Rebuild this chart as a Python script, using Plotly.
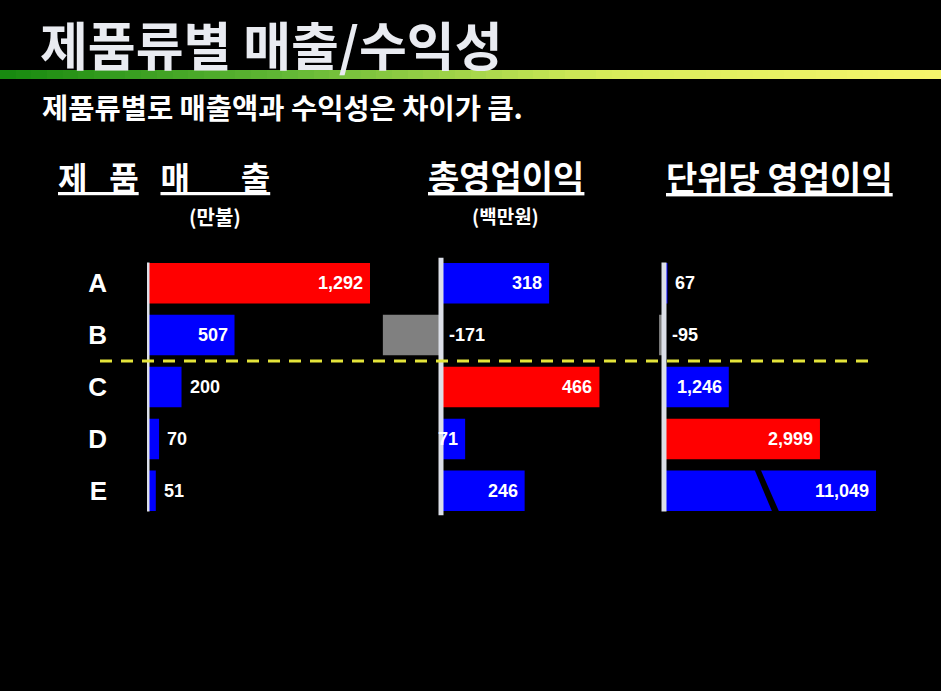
import plotly.graph_objects as go

W, H = 941, 691

# data
categories = ['A', 'B', 'C', 'D', 'E']
sales = [1292, 507, 200, 70, 51]              # 제품매출 (만불)
op_profit = [318, -171, 466, 71, 246]         # 총영업이익 (백만원)
unit_profit = [67, -95, 1246, 2999, 11049]    # 단위당 영업이익

sales_colors = ['#ff0000', '#0000ff', '#0000ff', '#0000ff', '#0000ff']
op_colors = ['#0000ff', '#808080', '#ff0000', '#0000ff', '#0000ff']
unit_colors = ['#0000ff', '#808080', '#0000ff', '#ff0000', '#0000ff']

# where the value label goes: inside the bar end or just outside
sales_pos = ['in', 'in', 'out', 'out', 'out']
op_pos = ['in', 'out', 'in', 'in', 'in']
unit_pos = ['out', 'out', 'in', 'in', 'in']


def px(x):
    return x / W


def py(y):
    return 1 - y / H


KFONT = 'Noto Sans CJK KR'
AFONT = 'Liberation Sans'

# pixel layout of the three panels: (axis, zero position, px per unit, domain left, domain right)
panels = [
    ('x', 147, 223 / 1292, 147, 400),
    ('x2', 441, 0.34, 375, 640),
    ('x3', 664, 0.052, 645, 876),
]

fig = go.Figure()

series = [(sales, sales_colors, sales_pos), (op_profit, op_colors, op_pos),
          (unit_profit, unit_colors, unit_pos)]

annotations = []
shapes = []
layout_axes = {}
lab_font = dict(family=AFONT, size=18, color='white', weight='bold')

for (ax, zero, scale, d0, d1), (vals, cols, pos) in zip(panels, series):
    rmin = -(zero - d0) / scale
    rmax = (d1 - zero) / scale
    fig.add_trace(go.Bar(x=vals, y=categories, orientation='h',
                         marker=dict(color=cols, line=dict(width=0)),
                         width=0.78, xaxis=ax, yaxis='y',
                         hoverinfo='x+y', showlegend=False))
    key = 'xaxis' if ax == 'x' else 'xaxis' + ax[1:]
    layout_axes[key] = dict(domain=[px(d0), px(d1)], range=[rmin, rmax],
                            anchor='y', visible=False, fixedrange=True)
    for c, v, p in zip(categories, vals, pos):
        if p == 'in':
            annotations.append(dict(x=min(v, rmax), y=c, xref=ax, yref='y',
                                    text=f'{v:,}', showarrow=False,
                                    xanchor='right', xshift=-5, font=lab_font))
        else:
            annotations.append(dict(x=max(v, 0), y=c, xref=ax, yref='y',
                                    text=f'{v:,}', showarrow=False,
                                    xanchor='left', xshift=6, font=lab_font))

# vertical base lines
shapes.append(dict(type='line', xref='x', yref='y', x0=0, x1=0, y0=-0.4, y1=4.4,
                   line=dict(color='#dcdfe8', width=5)))
shapes.append(dict(type='line', xref='x2', yref='y', x0=0, x1=0, y0=-0.49, y1=4.47,
                   line=dict(color='#dcdfe8', width=5)))
shapes.append(dict(type='line', xref='x3', yref='y', x0=0, x1=0, y0=-0.4, y1=4.4,
                   line=dict(color='#dcdfe8', width=5)))

# yellow dashed divider between B and C
shapes.append(dict(type='line', xref='paper', yref='y', x0=px(100), x1=px(870),
                   y0=1.5, y1=1.5,
                   line=dict(color='#e4e43a', width=3, dash='12px,9px')))

# axis break on the E bar of the last panel
brk = [(753, 466), (759, 466), (781, 516), (774, 516)]
path = 'M ' + ' L '.join(f'{px(a):.5f},{py(b):.5f}' for a, b in brk) + ' Z'
shapes.append(dict(type='path', xref='paper', yref='paper', path=path,
                   fillcolor='black', line=dict(width=0)))

# green -> yellow gradient band under the title
grad = [list(range(60))]
fig.add_trace(go.Heatmap(z=grad, xaxis='x4', yaxis='y4', showscale=False,
                         hoverinfo='skip',
                         colorscale=[[0, '#188a10'], [0.3, '#62b835'],
                                     [0.65, '#d8ec5a'], [1, '#f6f66c']]))
layout_axes['xaxis4'] = dict(domain=[0, 1], anchor='y4', visible=False)
layout_axes['yaxis4'] = dict(domain=[py(79), py(70)], anchor='x4', visible=False)

nb = '\u00a0'
# titles
annotations += [
    dict(x=px(38), y=py(44), xref='paper', yref='paper', text='<b>제품류별 매출/수익성</b>',
         xanchor='left', yanchor='middle', showarrow=False,
         font=dict(family=KFONT, size=52, color='#e9ebf1')),
    dict(x=px(40), y=py(107), xref='paper', yref='paper',
         text='<b>제품류별로 매출액과 수익성은 차이가 큼.</b>',
         xanchor='left', yanchor='middle', showarrow=False,
         font=dict(family=KFONT, size=28.5, color='white')),
    dict(x=px(164), y=py(176), xref='paper', yref='paper',
         text=f'<b><u>제{nb*3}품</u>{nb*3}<u>매{nb*7}출</u></b>',
         xanchor='center', yanchor='middle', showarrow=False,
         font=dict(family=KFONT, size=32, color='white')),
    dict(x=px(215), y=py(216), xref='paper', yref='paper', text='<b>(만불)</b>',
         xanchor='center', yanchor='middle', showarrow=False,
         font=dict(family=KFONT, size=20, color='white')),
    dict(x=px(506), y=py(175), xref='paper', yref='paper', text='<b><u>총영업이익</u></b>',
         xanchor='center', yanchor='middle', showarrow=False,
         font=dict(family=KFONT, size=34, color='white')),
    dict(x=px(506), y=py(215), xref='paper', yref='paper', text='<b>(백만원)</b>',
         xanchor='center', yanchor='middle', showarrow=False,
         font=dict(family=KFONT, size=19, color='white')),
    dict(x=px(779), y=py(176), xref='paper', yref='paper', text='<b><u>단위당 영업이익</u></b>',
         xanchor='center', yanchor='middle', showarrow=False,
         font=dict(family=KFONT, size=34, color='white')),
]

fig.update_layout(
    width=W, height=H,
    margin=dict(l=0, r=0, t=0, b=0),
    paper_bgcolor='black', plot_bgcolor='black',
    showlegend=False,
    barmode='overlay',
    yaxis=dict(domain=[py(517.75), py(255.25)], autorange='reversed',
               anchor='free', position=px(147), showgrid=False, zeroline=False,
               showline=False, ticks='', ticklabelstandoff=40, fixedrange=True,
               tickfont=dict(family=AFONT, size=26, color='white', weight='bold')),
    annotations=annotations,
    shapes=shapes,
    **layout_axes,
)

fig.write_html('out.html', config={'displayModeBar': False},
               post_script="document.body.style.margin='0px';")
